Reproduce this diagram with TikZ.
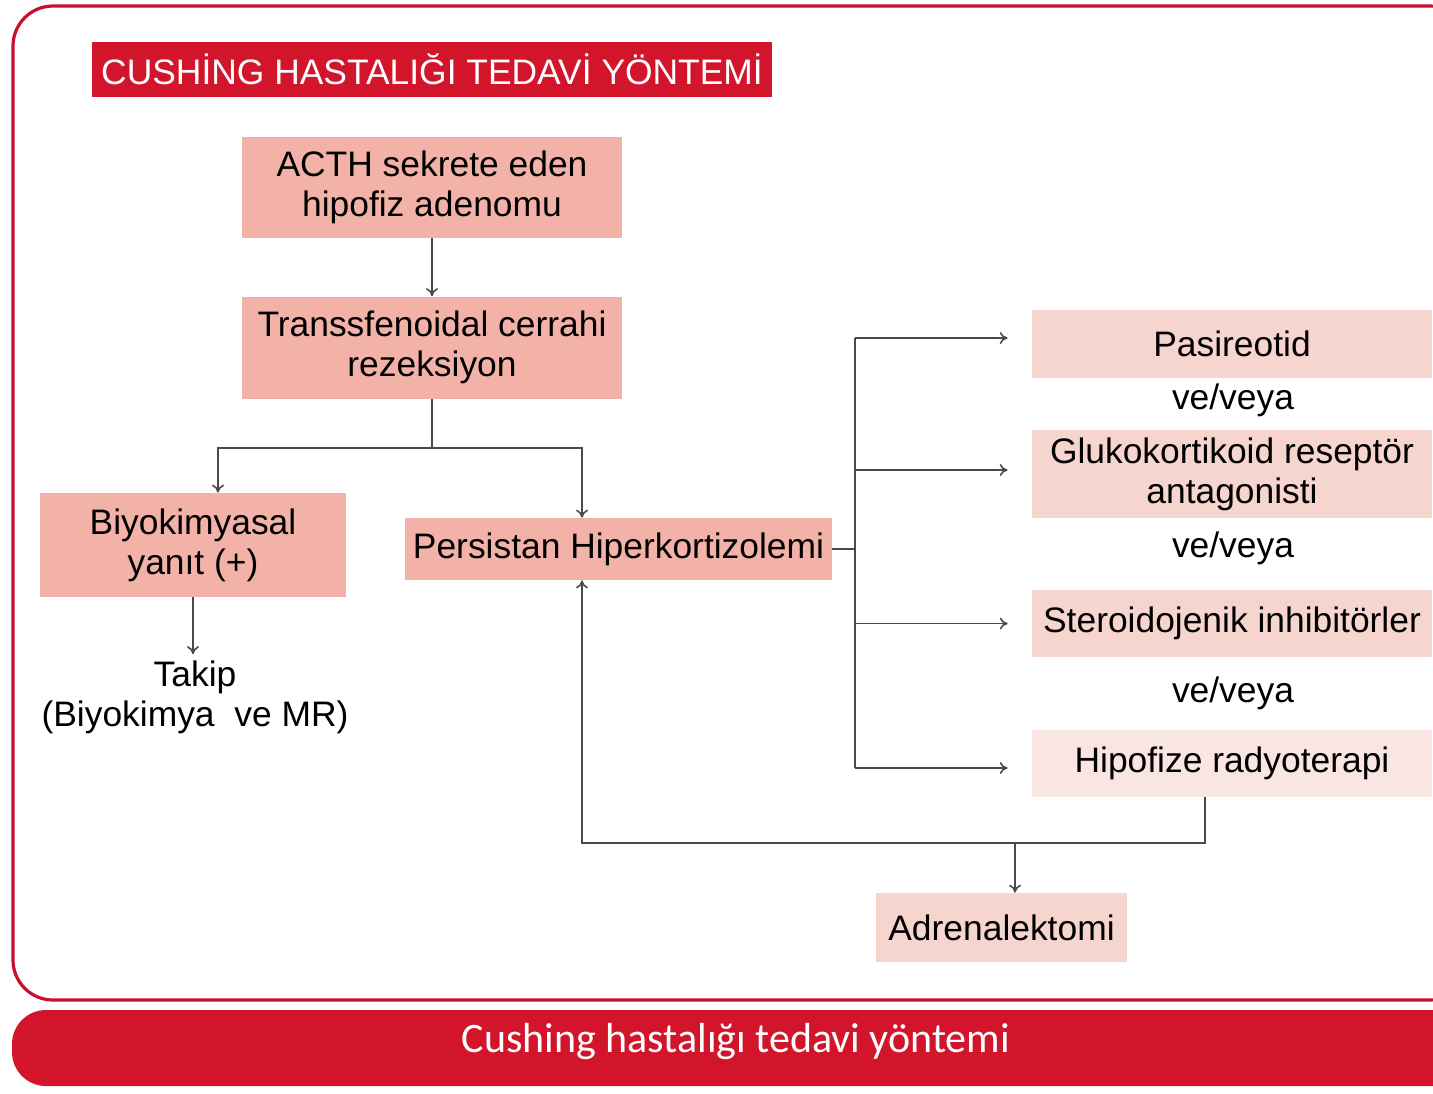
\documentclass[tikz,border=0pt]{standalone}
\usepackage{fontspec}
\setmainfont{Liberation Sans}
\setsansfont{Liberation Sans}
\newfontfamily\barfont{Carlito}
\usetikzlibrary{arrows.meta,positioning}
\usepackage{xcolor}

\definecolor{CushRed}{HTML}{D3152C}
\definecolor{FrameRed}{HTML}{C8102E}
\definecolor{Salmon}{HTML}{F3B2A7}
\definecolor{LightPink}{HTML}{F7D5CF}
\definecolor{PalePink}{HTML}{F9E6E2}
\definecolor{LineGray}{HTML}{4A4A4A}

\begin{document}
\begin{tikzpicture}[
        %Environment config
        x=0.5pt, y=-0.5pt,
        font=\sffamily\fontsize{17.7}{20}\selectfont,
        %Environment styles
        BoxCfg/.style={
            fill=Salmon,
            inner sep=0pt,
            align=center
        },
        OptCfg/.style={
            BoxCfg,
            fill=LightPink,
            minimum width=200pt
        },
        Arr/.style={
            -{To[length=4pt,width=6pt]},
            draw=LineGray,
            line width=0.8pt
        },
        Lin/.style={
            draw=LineGray,
            line width=0.8pt
        }
    ]
    \clip (0,0) rectangle (1433,1093);

    % frame and bottom bar
    \draw[FrameRed, line width=1.6pt, rounded corners=20pt]
        (13,6) rectangle (1470,1000);
    \fill[CushRed, rounded corners=17pt]
        (12,1010) rectangle (1470,1086);
    \path (736,1042) node[text=white, font=\barfont\fontsize{21}{24}\selectfont](Caption){Cushing hastalığı tedavi yöntemi};

    % title
    \path (432,69.5) node[BoxCfg, fill=CushRed, text=white, minimum width=340pt, minimum height=27.5pt](Title){CUSHİNG HASTALIĞI TEDAVİ YÖNTEMİ};

    % left column
    \path
        (432,187.5) node[BoxCfg, minimum width=190pt, minimum height=50.5pt](ACTH){ACTH sekrete eden\\hipofiz adenomu}
            ++ (0,160) node[BoxCfg, minimum width=190pt, minimum height=51pt](TSS){Transsfenoidal cerrahi\\rezeksiyon}
        (193,545) node[BoxCfg, minimum width=153pt, minimum height=52pt](Biyo){Biyokimyasal\\yanıt (+)}
            ++ (2,152) node[align=center, inner sep=0pt](Takip){Takip\\(Biyokimya\ \ ve MR)}
        (618.5,549) node[BoxCfg, minimum width=213.5pt, minimum height=31pt](Pers){Persistan Hiperkortizolemi};

    % right column
    \path
        (1232,344) node[OptCfg, minimum height=34pt](Pasi){Pasireotid}
            ++ (1,56) node(VV1){ve/veya}
        (1232,474) node[OptCfg, minimum height=44pt](Gluko){Glukokortikoid reseptör\\antagonisti}
            ++ (1,74) node(VV2){ve/veya}
        (1232,623.5) node[OptCfg, minimum height=33.5pt](Stero){Steroidojenik inhibitörler}
            ++ (1,69.5) node(VV3){ve/veya}
        (1232,763.5) node[OptCfg, fill=PalePink, minimum height=33.5pt](Hipo){Hipofize radyoterapi}
        (1001.5,927.5) node[BoxCfg, fill=LightPink, minimum width=125.5pt, minimum height=34.5pt](Adren){Adrenalektomi};

    \coordinate (Split) at (432,448);
    \coordinate (Bus) at (855,549);
    \coordinate (Back) at (582,843);
    \coordinate (Drop) at (1015,843);

    \draw[Arr] (ACTH.south) -- (TSS.north);
    \draw[Lin] (TSS.south) -- (Split);
    \draw[Arr] (Split) -| ([xshift=12.5pt]Biyo.north);
    \draw[Arr] (Split) -| ([xshift=-18.25pt]Pers.north);
    \draw[Arr] (Biyo.south) -- ([yshift=3pt]Biyo.south |- Takip.north);

    \draw[Lin] (Pers.east) -- (Bus);
    \draw[Lin] (Bus |- Pasi.west) ++(0,-6) -- (Bus |- Hipo.west) -- ++(0,4.5);
    \draw[Arr] ([yshift=3pt]Bus |- Pasi.west) -- ([xshift=-12pt,yshift=3pt]Pasi.west);
    \draw[Arr] ([yshift=2pt]Bus |- Gluko.west) -- ([xshift=-12pt,yshift=2pt]Gluko.west);
    \draw[Arr] (Bus |- Stero.west) -- ([xshift=-12pt]Stero.west);
    \draw[Arr] ([yshift=-2.25pt]Bus |- Hipo.west) -- ([xshift=-12pt,yshift=-2.25pt]Hipo.west);

    \draw[Arr] ([xshift=-13.5pt]Hipo.south) |- (Back) -- ([xshift=-18.25pt]Pers.south);
    \draw[Arr] (Drop) -- (Drop |- Adren.north);
\end{tikzpicture}
\end{document}
